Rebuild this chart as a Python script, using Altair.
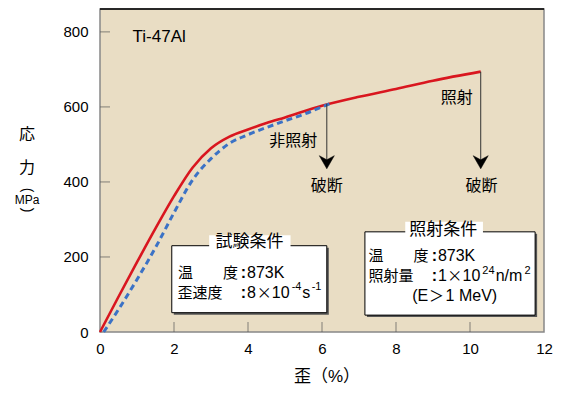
import altair as alt
import pandas as pd

# ---- data ----
irr_strain = [0, 0.5, 1, 1.5, 2, 2.5, 3, 3.5, 4, 4.5, 5, 6, 7, 8, 9, 10.29]
irr_stress = [0, 94, 186, 276, 362, 438, 490, 521, 540, 557, 572, 603, 627, 648, 670, 694]

non_strain = [0.1, 0.5, 1, 1.5, 2, 2.5, 3, 3.5, 4, 4.55, 5, 5.5, 6, 6.3]
non_stress = [0, 60, 140, 225, 318, 405, 462, 503, 526, 547, 563, 580, 600, 612]

x_ticks = [0, 2, 4, 6, 8, 10, 12]
y_ticks = [0, 200, 400, 600, 800]

LATIN = "Liberation Sans"
CJK = "Noto Sans CJK JP"
FONT = "Liberation Sans, Noto Sans CJK JP"
W, H = 444, 323
XD = [0, 12]
YD = [0, 861]
PX = 37.0  # pixels per strain unit, used only to place annotation text


def sx(px):
    """pixel column (page) -> strain value, for annotation placement"""
    return (px - 100) / PX


xs = alt.Scale(domain=XD, nice=False, zero=False)
ys = alt.Scale(domain=YD, nice=False)

irr = pd.DataFrame({"x": irr_strain, "y": irr_stress})
non = pd.DataFrame({"x": non_strain, "y": non_stress})

base_x = alt.X("x:Q", scale=xs, title=None,
               axis=alt.Axis(values=x_ticks, ticks=False, domain=False, grid=False,
                             labelFont=LATIN, labelFontSize=15, labelColor="black",
                             labelPadding=9, labelFlush=False))
base_y = alt.Y("y:Q", scale=ys, title=None,
               axis=alt.Axis(values=y_ticks, ticks=False, domain=False, grid=False,
                             labelFont=LATIN, labelFontSize=15, labelColor="black",
                             labelPadding=12))

red_line = alt.Chart(irr).mark_line(color="#d9161f", strokeWidth=2.6, interpolate="monotone").encode(
    x=base_x, y=base_y)
blue_line = alt.Chart(non).mark_line(color="#3b72c6", strokeWidth=3, strokeDash=[6, 4],
                                      interpolate="monotone").encode(x="x:Q", y="y:Q")

# inner ticks
xt = alt.Chart(pd.DataFrame({"x": x_ticks[1:-1]})).mark_tick(color="#555", thickness=1, size=10).encode(
    x="x:Q", y=alt.value(H - 5))
yt = alt.Chart(pd.DataFrame({"y": y_ticks[1:]})).mark_tick(color="#555", thickness=1, size=10).encode(
    y="y:Q", x=alt.value(5))

# top border
top = alt.Chart(pd.DataFrame({"a": [0]})).mark_rule(color="black", strokeWidth=1.5).encode(
    x=alt.value(0), x2=alt.value(W), y=alt.value(0))

# fracture arrows
arrows = pd.DataFrame({"x": [6.13, 10.29], "y": [608, 694], "y2": [450, 450]})
arrow_lines = alt.Chart(arrows).mark_rule(color="#333", strokeWidth=1).encode(
    x="x:Q", y="y:Q", y2="y2:Q")
heads = alt.Chart(pd.DataFrame({"x": [6.13, 10.29], "y": [453, 453]})).mark_point(
    shape="M-1,-0.85L0,0.9L1,-0.85L0,-0.3Z", filled=True, fill="black", stroke="black",
    strokeWidth=0.5, size=225, opacity=1).encode(x="x:Q", y="y:Q")

# labels inside plot
labels = pd.DataFrame({
    "x": [6.13, 10.31, 9.64, 5.22],
    "y": [389, 389, 623, 509],
    "t": ["破断", "破断", "照射", "非照射"],
})
label_text = alt.Chart(labels).mark_text(font=CJK, fontSize=16, color="black",
                                          baseline="middle", align="center").encode(
    x="x:Q", y="y:Q", text="t:N")

ti = alt.Chart(pd.DataFrame({"x": [0.88], "y": [787], "t": ["Ti-47Al"]})).mark_text(
    font=LATIN, fontSize=17, color="black", align="left", baseline="middle").encode(
    x="x:Q", y="y:Q", text="t:N")

# condition boxes
boxes = pd.DataFrame({"x": [1.94, 7.16], "x2": [6.13, 11.76], "y": [230, 267], "y2": [51.5, 45]})
shadow = alt.Chart(boxes).mark_rect(fill="#555", xOffset=2, x2Offset=2, yOffset=2, y2Offset=2).encode(
    x="x:Q", x2="x2:Q", y="y:Q", y2="y2:Q")
box = alt.Chart(boxes).mark_rect(fill="white", stroke="black", strokeWidth=1).encode(
    x="x:Q", x2="x2:Q", y="y:Q", y2="y2:Q")
tboxes = pd.DataFrame({"x": [2.95, 8.25], "x2": [5.15, 10.35], "y": [258, 294], "y2": [218, 250]})
tbox = alt.Chart(tboxes).mark_rect(fill="white").encode(
    x="x:Q", x2="x2:Q", y="y:Q", y2="y2:Q")
titles = pd.DataFrame({"x": [4.04, 9.28], "y": [240, 271], "t": ["試験条件", "照射条件"]})
title_text = alt.Chart(titles).mark_text(font=CJK, fontSize=17, color="black",
                                          align="center", baseline="middle").encode(
    x="x:Q", y="y:Q", text="t:N")

# box contents, split into CJK / Latin / superscript pieces
L1, L2 = 156, 105            # box 1 rows (stress units)
M1, M2, M3 = 203, 149, 97    # box 2 rows
cjk_left = pd.DataFrame({
    "x": [sx(178.0), sx(223.0), sx(177.5), sx(368.5), sx(413.5), sx(368.5)],
    "y": [L1, L1, L2, M1, M1, M2],
    "t": ["温", "度", "歪速度", "温", "度", "照射量"],
})
cjk_center = pd.DataFrame({
    "x": [sx(264.2), sx(454.8), sx(436.5)],
    "y": [L2, M2, M3],
    "t": ["×", "×", "＞"],
})
colons = pd.DataFrame({
    "x": [sx(243.3), sx(243.3), sx(434.4), sx(434.4)],
    "y": [L1, L2, M1, M2],
    "t": [":", ":", ":", ":"],
})
latin_left = pd.DataFrame({
    "x": [sx(247.0), sx(247.0), sx(271.8), sx(302.2), sx(437.9), sx(437.9), sx(462.5),
          sx(495.7), sx(412.2), sx(445.6)],
    "y": [L1, L2, L2, L2, M1, M2, M2, M2, M3, M3],
    "t": ["873K", "8", "10", "s", "873K", "1", "10", "n/m", "(E", "1 MeV)"],
})
sup_left = pd.DataFrame({
    "x": [sx(291.7), sx(311.7), sx(482.3), sx(524.5)],
    "y": [L2 + 15, L2 + 15, M2 + 14, M2 + 14],
    "t": ["-4", "-1", "24", "2"],
})
cjk_l = alt.Chart(cjk_left).mark_text(font=CJK, fontSize=15, color="black", align="left",
                                       baseline="middle").encode(x="x:Q", y="y:Q", text="t:N")
cjk_c = alt.Chart(cjk_center).mark_text(font=CJK, fontSize=15, color="black", align="center",
                                         baseline="middle").encode(x="x:Q", y="y:Q", text="t:N")
col_c = alt.Chart(colons).mark_text(font=LATIN, fontSize=16, fontWeight="bold", color="black",
                                     align="center", baseline="middle").encode(
    x="x:Q", y="y:Q", text="t:N")
lat_l = alt.Chart(latin_left).mark_text(font=LATIN, fontSize=16, color="black", align="left",
                                         baseline="middle").encode(x="x:Q", y="y:Q", text="t:N")
sup_l = alt.Chart(sup_left).mark_text(font=LATIN, fontSize=11, color="black", align="left",
                                       baseline="middle").encode(x="x:Q", y="y:Q", text="t:N")

# axis titles (outside plot)
ytitle = pd.DataFrame({
    "px": [-73, -73, -73, -73, -73],
    "py": [126, 159, 181, 191, 201],
    "t": ["応", "力", "(", "MPa", ")"],
    "a": [0, 0, 90, 0, 90],
    "s": [16, 16, 14, 12, 14],
})
ytitle_text = alt.Chart(ytitle).mark_text(font=FONT, color="black", align="center",
                                           baseline="middle").encode(
    x=alt.X("px:Q", scale=None), y=alt.Y("py:Q", scale=None), text="t:N",
    angle=alt.Angle("a:Q", scale=None), size=alt.Size("s:Q", scale=None))
xtitle = alt.Chart(pd.DataFrame({"t": ["歪（%）"]})).mark_text(
    font=FONT, fontSize=17, color="black", align="center", baseline="middle").encode(
    x=alt.value(227), y=alt.value(368), text="t:N")

chart = alt.layer(
    red_line, blue_line, xt, yt, top, arrow_lines, heads, label_text, ti,
    shadow, box, tbox, title_text, cjk_l, cjk_c, col_c, lat_l, sup_l, ytitle_text, xtitle
).properties(
    width=W, height=H,
    autosize=alt.AutoSizeParams(type="none"),
    padding={"left": 92, "top": 1, "right": 15, "bottom": 57},
).configure_view(
    fill="#e9ddc4", stroke="#888", strokeWidth=1.5
)

chart.save("out.html", embed_options={"renderer": "svg", "actions": False})
